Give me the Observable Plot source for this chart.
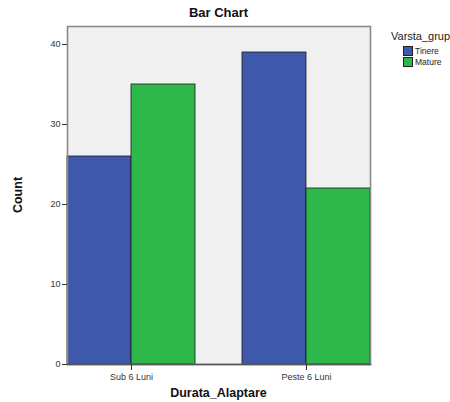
<!DOCTYPE html>
<html>
<head>
<meta charset="utf-8">
<script src="https://cdn.jsdelivr.net/npm/d3@7"></script>
<script src="https://cdn.jsdelivr.net/npm/@observablehq/plot@0.6"></script>
<style>
  html, body { margin: 0; padding: 0; background: #fff; }
  #wrap { position: relative; width: 450px; height: 402px; overflow: hidden; font-family: Arial, "Liberation Sans", sans-serif; }
  #title { position: absolute; left: 49px; width: 339px; top: 5px; text-align: center; font-weight: bold; font-size: 13px; color: #111; z-index: 2; }
  #legend { position: absolute; left: 391px; top: 30px; font-size: 11px; color: #222; white-space: nowrap; z-index: 2; }
  #legend .item { display: flex; align-items: center; font-size: 8.5px; margin-left: 12px; height: 11px; }
  #legend .sw { width: 8px; height: 8px; border: 1px solid #222; margin-right: 2px; }
</style>
</head>
<body>
<div id="wrap">
  <div id="title">Bar Chart</div>
  <div id="legend"></div>
</div>
<script>
const categories = ["Sub 6 Luni", "Peste 6 Luni"];
const series = ["Tinere", "Mature"];
const tinereValues = [26, 39];
const matureValues = [35, 22];
const colors = ["#3e58ac", "#2eb84b"];
const yTicks = [0, 10, 20, 30, 40];

const data = [];
categories.forEach((c, i) => {
  data.push({cat: c, grp: series[0], value: tinereValues[i]});
  data.push({cat: c, grp: series[1], value: matureValues[i]});
});

const chart = Plot.plot({
  width: 450,
  height: 402,
  marginTop: 26,
  marginBottom: 38,
  marginLeft: 49,
  marginRight: 62,
  style: {fontFamily: "Arial, 'Liberation Sans', sans-serif", fontSize: "9px", color: "#333", background: "transparent"},
  fx: {domain: categories, paddingInner: 0.267, paddingOuter: 0.0966, label: null},
  x: {domain: series, padding: 0, axis: null},
  y: {domain: [0, 42.25], ticks: yTicks, label: null},
  color: {domain: series, range: colors},
  marks: [
    Plot.frame({facet: "super", fill: "#f0f0f0", stroke: "none"}),
    Plot.barY(data, {fx: "cat", x: "grp", y: "value", fill: "grp", stroke: "#1a1a1a", strokeWidth: 0.8}),
    Plot.frame({facet: "super", stroke: "#8a8a8a", strokeWidth: 1.6}),
    Plot.frame({facet: "super", anchor: "bottom", stroke: "#555", strokeWidth: 1.5}),
    Plot.axisY({ticks: yTicks, tickSize: 5, tickPadding: 2, label: null, stroke: "#333", fill: "#333"}),
    Plot.axisFx({anchor: "bottom", tickSize: 6, tickPadding: 3, label: null, fill: "#333", fontSize: 9})
  ]
});
document.getElementById("wrap").appendChild(chart);
chart.style.position = "absolute";
chart.style.left = "0";
chart.style.top = "0";

const ns = "http://www.w3.org/2000/svg";
const xt = document.createElementNS(ns, "text");
xt.setAttribute("x", 218.5); xt.setAttribute("y", 397);
xt.setAttribute("text-anchor", "middle");
xt.setAttribute("font-weight", "bold"); xt.setAttribute("font-size", "12.5");
xt.setAttribute("fill", "#111");
xt.textContent = "Durata_Alaptare";
chart.appendChild(xt);
const yt = document.createElementNS(ns, "text");
yt.setAttribute("transform", "translate(22,195) rotate(-90)");
yt.setAttribute("text-anchor", "middle");
yt.setAttribute("font-weight", "bold"); yt.setAttribute("font-size", "12.5");
yt.setAttribute("fill", "#111");
yt.textContent = "Count";
chart.appendChild(yt);

const legend = document.getElementById("legend");
const lt = document.createElement("div");
lt.textContent = "Varsta_grup";
lt.style.marginBottom = "3px";
legend.appendChild(lt);
series.forEach((s, i) => {
  const it = document.createElement("div");
  it.className = "item";
  const sw = document.createElement("span");
  sw.className = "sw";
  sw.style.background = colors[i];
  it.appendChild(sw);
  it.appendChild(document.createTextNode(s));
  legend.appendChild(it);
});
</script>
</body>
</html>
